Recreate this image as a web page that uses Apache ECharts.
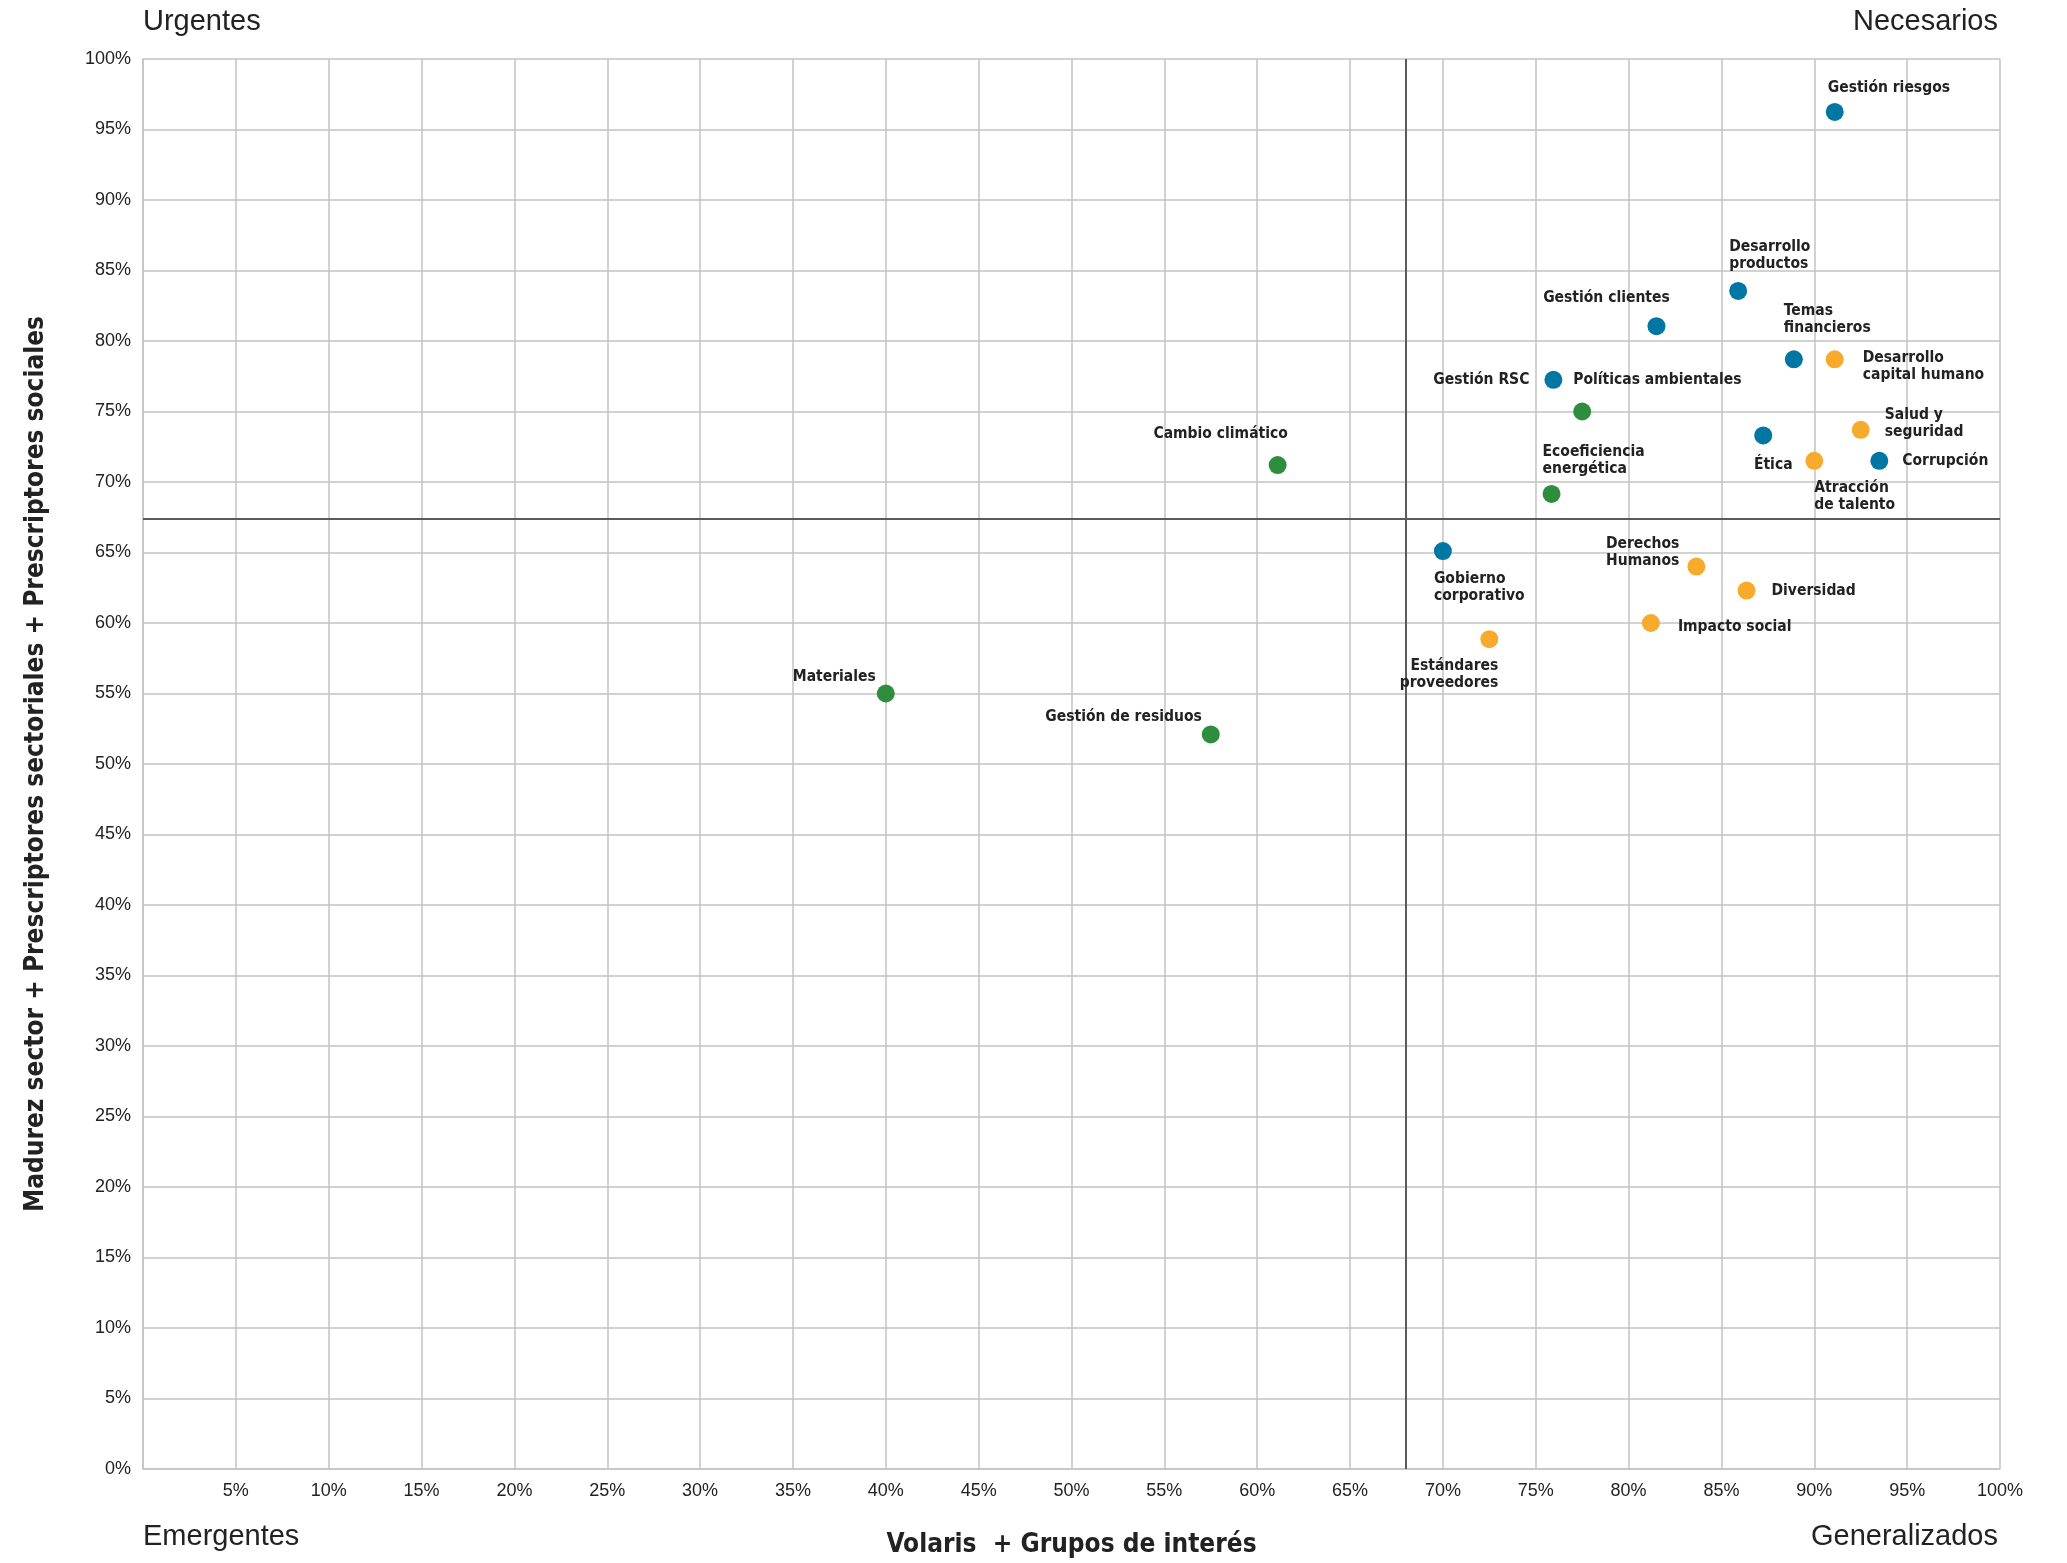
<!DOCTYPE html>
<html>
<head>
<meta charset="utf-8">
<script src="https://cdn.jsdelivr.net/npm/echarts@6/dist/echarts.min.js"></script>
<style>
html,body{margin:0;padding:0;background:#fff;}
#chart{width:2067px;height:1563px;}
</style>
</head>
<body>
<div id="chart"></div>
<script>
// ---- DATA ----
const topicNames = [
  'Gestión riesgos', 'Desarrollo\nproductos', 'Gestión clientes', 'Temas\nfinancieros',
  'Desarrollo\ncapital humano', 'Gestión RSC', 'Políticas ambientales', 'Ética',
  'Salud y\nseguridad', 'Atracción\nde talento', 'Corrupción', 'Ecoeficiencia\nenergética',
  'Cambio climático', 'Gobierno\ncorporativo', 'Derechos\nHumanos', 'Diversidad',
  'Impacto social', 'Estándares\nproveedores', 'Materiales', 'Gestión de residuos'
];
const xValues = [91.1, 85.9, 81.5, 88.9, 91.1, 75.95, 77.5, 87.25, 92.5, 90.0, 93.5, 75.85, 61.1, 70.0, 83.65, 86.35, 81.2, 72.5, 40.0, 57.5];
const yValues = [96.25, 83.55, 81.05, 78.7, 78.7, 77.25, 75.0, 73.3, 73.7, 71.5, 71.5, 69.15, 71.2, 65.1, 64.0, 62.3, 60.0, 58.85, 55.0, 52.1];
const topicGroups = ['gob', 'gob', 'gob', 'gob', 'soc', 'gob', 'amb', 'gob', 'soc', 'soc', 'gob', 'amb', 'amb', 'gob', 'soc', 'soc', 'soc', 'soc', 'amb', 'amb'];
const groupKeys = ['gob', 'amb', 'soc'];
const axisTicks = [0, 5, 10, 15, 20, 25, 30, 35, 40, 45, 50, 55, 60, 65, 70, 75, 80, 85, 90, 95, 100];
const dividerX = 68;
const dividerY = 67.4;
const xTitle = 'Volaris  + Grupos de interés';
const yTitle = 'Madurez sector + Prescriptores sectoriales + Prescriptores sociales';
const cornerLabels = ['Urgentes', 'Necesarios', 'Emergentes', 'Generalizados'];

// ---- STYLE / LAYOUT (kept separate from data) ----
const groupColors = { gob: '#0077A2', amb: '#2F8E3E', soc: '#F8AA2C' };
const labelFont = "'DejaVu Sans Condensed', 'Liberation Sans Narrow', sans-serif";
const plainFont = "'Liberation Sans', Arial, sans-serif";
const labelLayout = {
  'Gestión riesgos': { align: 'left', off: [-7, -24] },
  'Desarrollo\nproductos': { align: 'left', off: [-9, -35] },
  'Gestión clientes': { align: 'center', off: [-50, -28] },
  'Temas\nfinancieros': { align: 'left', off: [-10, -40] },
  'Desarrollo\ncapital humano': { align: 'left', off: [28, 7] },
  'Gestión RSC': { align: 'right', off: [-24, 0] },
  'Políticas ambientales': { align: 'left', off: [-9, -32] },
  'Ética': { align: 'center', off: [10, 29] },
  'Salud y\nseguridad': { align: 'left', off: [24, -6] },
  'Atracción\nde talento': { align: 'left', off: [0, 36] },
  'Corrupción': { align: 'left', off: [23, 0] },
  'Ecoeficiencia\nenergética': { align: 'left', off: [-9, -34] },
  'Cambio climático': { align: 'center', off: [-57, -31] },
  'Gobierno\ncorporativo': { align: 'left', off: [-9, 36] },
  'Derechos\nHumanos': { align: 'right', off: [-17, -14] },
  'Diversidad': { align: 'left', off: [25, 0] },
  'Impacto social': { align: 'left', off: [27, 4] },
  'Estándares\nproveedores': { align: 'right', off: [9, 35] },
  'Materiales': { align: 'right', off: [-10, -17] },
  'Gestión de residuos': { align: 'right', off: [-9, -17] }
};

const chart = echarts.init(document.getElementById('chart'), null, { renderer: 'canvas' });

const series = groupKeys.map((g, gi) => {
  const data = [];
  topicNames.forEach((n, i) => {
    if (topicGroups[i] !== g) return;
    const lay = labelLayout[n];
    data.push({
      name: n,
      value: [xValues[i], yValues[i]],
      label: {
        show: true,
        position: 'inside',
        align: lay.align,
        verticalAlign: 'middle',
        offset: lay.off,
        formatter: '{b}'
      }
    });
  });
  const s = {
    type: 'scatter',
    name: g,
    symbol: 'circle',
    symbolSize: 18,
    itemStyle: { color: groupColors[g], opacity: 1 },
    label: {
      color: '#222',
      fontFamily: labelFont,
      fontWeight: 'bold',
      fontSize: 15.5,
      lineHeight: 17
    },
    emphasis: { disabled: true },
    z: 5,
    data: data
  };
  if (gi === 0) {
    s.markLine = {
      silent: true,
      symbol: 'none',
      label: { show: false },
      lineStyle: { color: '#5b5b5b', width: 2, type: 'solid' },
      z: 3,
      data: [{ xAxis: dividerX }, { yAxis: dividerY }]
    };
  }
  return s;
});

const axisCommon = {
  type: 'value',
  min: axisTicks[0],
  max: axisTicks[axisTicks.length - 1],
  interval: axisTicks[1] - axisTicks[0],
  axisLine: { show: true, lineStyle: { color: '#c3c3c3', width: 1.5 } },
  axisTick: { show: false },
  splitLine: { show: true, lineStyle: { color: '#c3c3c3', width: 1.5 } }
};

chart.setOption({
  animation: false,
  backgroundColor: '#ffffff',
  grid: { left: 143, right: 67, top: 59, bottom: 92, containLabel: false },
  xAxis: Object.assign({}, axisCommon, {
    axisLabel: {
      margin: 13,
      fontSize: 18,
      fontFamily: plainFont,
      color: '#222',
      showMinLabel: true,
      formatter: v => (v === 0 ? '' : v + '%')
    },
    name: xTitle,
    nameLocation: 'middle',
    nameGap: 63,
    nameTextStyle: { fontFamily: labelFont, fontWeight: 'bold', fontSize: 26, color: '#222' }
  }),
  yAxis: Object.assign({}, axisCommon, {
    axisLabel: {
      margin: 12,
      fontSize: 18,
      fontFamily: plainFont,
      color: '#222',
      padding: [5, 0, 0, 0],
      formatter: v => v + '%'
    },
    name: yTitle,
    nameLocation: 'middle',
    nameGap: 94,
    nameTextStyle: { fontFamily: labelFont, fontWeight: 'bold', fontSize: 26, color: '#222' }
  }),
  graphic: [
    { type: 'text', x: 143, y: 22, style: { text: cornerLabels[0], fontSize: 29, fontFamily: plainFont, fill: '#222', align: 'left', verticalAlign: 'middle' } },
    { type: 'text', x: 1998, y: 22, style: { text: cornerLabels[1], fontSize: 29, fontFamily: plainFont, fill: '#222', align: 'right', verticalAlign: 'middle' } },
    { type: 'text', x: 143, y: 1537, style: { text: cornerLabels[2], fontSize: 29, fontFamily: plainFont, fill: '#222', align: 'left', verticalAlign: 'middle' } },
    { type: 'text', x: 1998, y: 1537, style: { text: cornerLabels[3], fontSize: 29, fontFamily: plainFont, fill: '#222', align: 'right', verticalAlign: 'middle' } }
  ],
  series: series
});
</script>
</body>
</html>
